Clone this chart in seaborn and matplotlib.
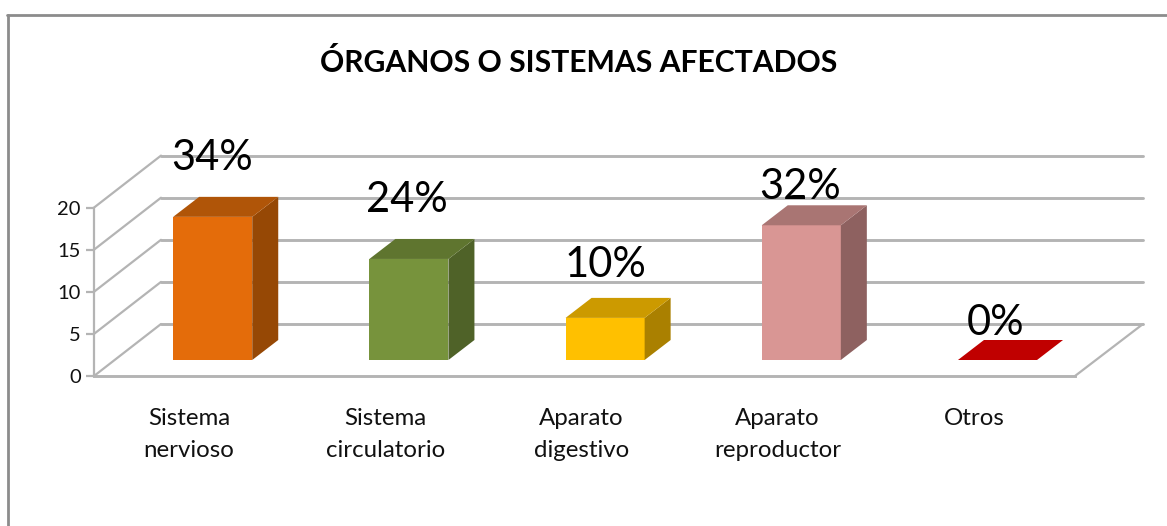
import matplotlib
matplotlib.use("Agg")
import matplotlib.pyplot as plt
import pandas as pd
import seaborn as sns
from matplotlib.lines import Line2D
from matplotlib.patches import ConnectionPatch, Polygon
from matplotlib.transforms import ScaledTranslation

categorias = ["Sistema\nnervioso", "Sistema\ncirculatorio", "Aparato\ndigestivo", "Aparato\nreproductor", "Otros"]
valores = [17, 12, 5, 16, 0]
etiquetas = ["34%", "24%", "10%", "32%", "0%"]
y_ticks = [0, 5, 10, 15, 20]

color_frente = ["#e46c0a", "#77933c", "#ffc000", "#d99694", "#c00000"]
color_arriba = ["#b05508", "#5f752f", "#cc9a00", "#a97573", "#c00000"]
color_lado = ["#964805", "#4f6228", "#aa8000", "#8e6160", "#8e0000"]

W, H = 1167, 526
GRIS = "#b4b4b4"

sns.set_theme(style="white")
plt.rcParams["font.family"] = ["Lato", "DejaVu Sans"]


def caja(izq, base, ancho, alto):
    # convierte pixeles de la imagen a coordenadas de figura
    return [izq / W, 1 - base / H, ancho / W, alto / H]


fig = plt.figure(figsize=(W / 100, H / 100), dpi=100, facecolor="white")

ALTO = 8.42 * 20
# pared del fondo, piso delantero y plano de las barras
ax_fondo = fig.add_axes(caja(161, 324, 982, ALTO), zorder=0)
ax_frente = fig.add_axes(caja(94, 376, 981, ALTO), zorder=1)
ax = fig.add_axes(caja(114.6, 360, 981, ALTO), zorder=2)

for a in (ax_fondo, ax_frente, ax):
    a.set_xlim(-0.5, 4.5)
    a.set_ylim(0, 20)
    a.patch.set_alpha(0)
    sns.despine(ax=a, left=True, bottom=True)

ax_fondo.set_xticks([])
ax_fondo.set_yticks(y_ticks)
ax_fondo.tick_params(left=False, labelleft=False)
ax_fondo.grid(True, axis="y", color=GRIS, linewidth=2.1)
ax_fondo.set_axisbelow(True)
for line in ax_fondo.get_ygridlines():
    line.set_clip_on(False)

ax_frente.spines["left"].set_visible(True)
ax_frente.spines["bottom"].set_visible(True)
ax_frente.spines["left"].set_color(GRIS)
ax_frente.spines["bottom"].set_color(GRIS)
ax_frente.spines["left"].set_linewidth(1.6)
ax_frente.spines["bottom"].set_linewidth(2.1)
ax_frente.set_xticks(range(len(categorias)))
ax_frente.set_xticklabels(categorias, fontsize=17.3, color="#111111", linespacing=1.65)
ax_frente.set_yticks(y_ticks)
ax_frente.tick_params(axis="y", left=True, length=6, width=1.6, color=GRIS, labelsize=14.5, labelcolor="#111111", pad=3.5)
ax_frente.tick_params(axis="x", bottom=False, pad=17)

# las etiquetas del eje quedan 3 px a la izquierda del centro
corte = ScaledTranslation(-3 * 0.72 / 72, 0, fig.dpi_scale_trans)
for lab in ax_frente.get_xticklabels():
    lab.set_transform(lab.get_transform() + corte)

# diagonales del piso y de la pared lateral
for v in y_ticks:
    ax_fondo.add_artist(ConnectionPatch(
        (-0.5, v), (-0.5, v), "data", "data", axesA=ax_frente, axesB=ax_fondo,
        color=GRIS, linewidth=1.6, clip_on=False))
ax_fondo.add_artist(ConnectionPatch(
    (4.5, 0), (4.5, 0), "data", "data", axesA=ax_frente, axesB=ax_fondo,
    color=GRIS, linewidth=1.6, clip_on=False))

df = pd.DataFrame({"categoria": categorias, "valor": valores})
sns.barplot(data=df, x="categoria", y="valor", hue="categoria", palette=color_frente,
            width=0.403, legend=False, ax=ax, saturation=1, linewidth=0)
ax.set_xlim(-0.5, 4.5)
ax.set_ylim(0, 20)
ax.set_xticks([])
ax.set_yticks([])
ax.set_xlabel("")
ax.set_ylabel("")

# profundidad de la barra: 26 px a la derecha, 20 px hacia arriba
dx = 26 / 196.2
dy = 20 / 8.42
subida = [59, 59, 53, 38, 37]
corrimiento = [-1, -2, 0, -1, -2]

for i, barra in enumerate(list(ax.patches)):
    x0 = barra.get_x()
    x1 = x0 + barra.get_width()
    h = barra.get_height()
    ax.add_patch(Polygon([(x1, 0), (x1 + dx, dy), (x1 + dx, h + dy), (x1, h)],
                         closed=True, facecolor=color_lado[i], edgecolor="none", clip_on=False))
    ax.add_patch(Polygon([(x0, h), (x0 + dx, h + dy), (x1 + dx, h + dy), (x1, h)],
                         closed=True, facecolor=color_arriba[i], edgecolor="none", clip_on=False))
    ax.annotate(etiquetas[i], xy=(i, h), xytext=(corrimiento[i] * 0.72, subida[i] * 0.72),
                textcoords="offset points", ha="center", va="center",
                fontsize=30, color="black", zorder=5, annotation_clip=False)

fig.text(579 / W, 1 - 63 / H, "ÓRGANOS O SISTEMAS AFECTADOS", ha="center", va="center",
         fontsize=21.7, fontweight="bold", color="black")

# marco del grafico
fig.add_artist(Line2D([7.5 / W, 7.5 / W], [0, 1 - 15 / H], color="#8c8c8c", linewidth=2))
fig.add_artist(Line2D([7 / W, 1], [1 - 15 / H, 1 - 15 / H], color="#8c8c8c", linewidth=2))

fig.savefig("out.png", dpi=100, facecolor="white")
